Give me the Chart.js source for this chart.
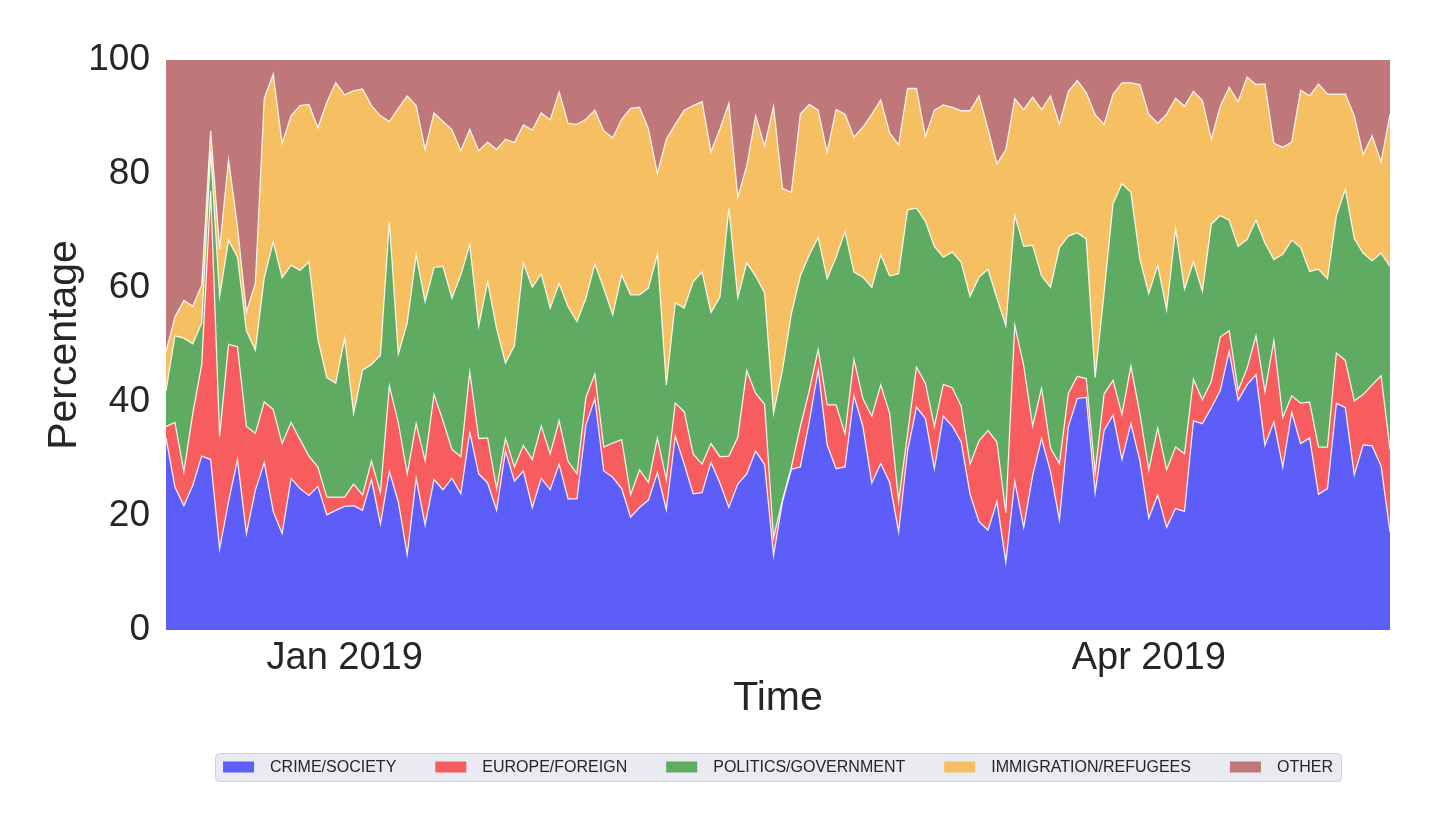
<!DOCTYPE html>
<html>
<head>
<meta charset="utf-8">
<script src="https://cdn.jsdelivr.net/npm/chart.js@4.4.1/dist/chart.umd.min.js"></script>
<style>
  html, body { margin: 0; padding: 0; background: #fff; }
  #wrap { width: 1440px; height: 831px; }
</style>
</head>
<body>
<div id="wrap"><canvas id="area-chart"></canvas></div>
<script>
// one point per day, 12 Dec 2018 .. 28 Apr 2019
// each array is the upper edge of that band (cumulative percentage)
const crimeTop = [
  33.7,25.1,21.8,25.4,30.5,29.9,14.2,22.5,29.9,16.9,24.5,29.4,20.8,16.9,26.6,24.8,23.6,25.2,20.2,21.0,21.7,21.8,21.0,
  26.4,18.6,27.8,22.5,13.2,26.6,18.4,26.4,24.6,26.6,23.9,34.7,27.4,25.8,21.0,31.4,26.1,27.9,21.5,26.6,24.6,29.1,23.0,
  23.0,36.0,40.6,27.9,26.8,24.8,19.8,21.5,22.8,27.6,21.1,34.0,29.1,23.9,24.1,29.4,25.8,21.5,25.6,27.4,31.4,29.0,
  13.1,22.5,28.2,28.6,36.5,45.7,32.5,28.3,28.6,41.1,35.7,25.8,29.2,25.9,17.2,31.4,39.1,37.1,28.3,37.5,35.8,33.0,
  23.8,19.0,17.5,22.5,11.9,26.1,18.0,27.1,33.6,27.8,19.3,35.7,40.6,40.8,24.1,35.0,37.7,29.9,36.2,29.7,19.6,23.7,18.0,
  21.3,20.8,36.7,36.2,39.0,42.0,48.9,40.3,43.0,44.8,32.4,36.5,28.6,38.2,32.7,33.7,23.8,24.8,39.8,39.0,27.2,32.5,32.3,28.8,17.2
];
const europeTop = [
  35.7,36.4,27.8,38.0,46.6,77.0,34.0,50.1,49.7,35.7,34.5,40.0,38.7,32.7,36.4,33.4,30.5,28.6,23.3,23.3,23.3,25.6,23.7,
  29.6,24.1,42.8,36.4,27.4,36.2,29.7,41.3,36.7,31.7,30.4,45.3,33.6,33.7,24.8,33.6,28.6,32.4,29.9,35.8,30.9,36.7,29.6,
  27.4,40.8,44.9,32.1,32.8,33.4,23.7,28.1,25.9,33.7,26.4,39.8,38.3,30.9,29.1,32.7,30.4,30.5,33.8,45.5,41.5,39.6,
  16.2,22.8,28.6,35.7,42.0,49.2,39.5,39.5,34.4,47.5,40.6,37.5,43.0,38.0,22.6,34.4,46.1,43.3,35.7,43.1,42.5,39.3,
  29.1,33.2,35.0,33.0,20.6,53.5,46.4,35.8,42.4,31.9,29.2,41.5,44.5,44.1,27.6,41.4,43.8,37.8,46.3,38.0,28.1,35.4,28.1,
  32.1,30.9,44.0,40.4,43.6,51.4,52.5,42.0,45.9,51.6,41.8,50.8,37.3,41.1,39.8,40.0,32.1,32.1,48.6,47.3,40.2,41.3,43.0,44.6,31.7
];
const politicsTop = [
  42.0,51.6,51.2,50.2,53.9,84.0,58.5,68.4,65.4,52.5,49.1,61.8,68.1,61.8,64.0,63.1,64.6,51.0,44.3,43.3,51.2,38.0,45.6,
  46.6,48.2,71.7,48.4,53.9,65.8,57.6,63.6,63.8,58.2,62.3,67.6,53.3,61.1,52.9,46.8,49.9,64.4,60.1,62.5,56.5,60.8,56.7,
  54.1,58.2,64.2,59.9,55.3,62.3,58.8,58.8,60.0,65.9,43.0,57.4,56.5,61.1,62.8,55.7,58.4,74.0,58.3,64.4,62.1,59.1,
  38.0,45.6,55.5,62.1,65.8,68.9,61.6,65.4,69.9,62.8,61.9,60.1,65.8,62.1,62.5,73.7,74.0,71.7,67.3,65.4,66.3,64.5,
  58.5,61.9,63.3,58.2,53.4,72.7,67.3,67.5,62.1,60.1,67.1,69.1,69.7,68.6,44.3,59.2,74.8,78.3,76.8,65.1,59.0,64.0,56.2,
  70.4,59.8,64.6,59.4,71.2,72.7,71.9,67.3,68.5,71.9,67.9,65.0,65.9,68.4,67.1,62.9,63.3,61.6,72.7,77.3,68.7,66.1,64.8,66.1,63.8
];
const immigrationTop = [
  48.9,54.9,57.8,56.8,60.5,87.6,66.8,82.5,70.7,55.8,60.8,93.3,97.5,85.4,90.2,92.0,92.2,88.1,92.6,96.0,93.9,94.6,94.9,
  92.0,90.2,89.2,91.5,93.7,92.0,84.3,90.7,89.2,87.8,84.1,87.8,84.1,85.6,84.3,86.1,85.5,88.6,87.7,90.7,89.5,94.4,88.9,
  88.7,89.6,91.2,87.6,86.3,89.6,91.5,91.7,87.9,80.1,86.1,88.7,91.2,92.0,92.7,83.9,87.9,92.4,75.9,81.4,90.2,84.9,
  91.9,77.5,76.8,90.5,92.2,91.2,83.8,91.3,90.5,86.5,88.2,90.5,93.0,87.2,85.1,95.0,95.0,86.6,91.2,92.1,91.7,91.1,
  91.1,93.7,87.9,81.8,84.3,93.2,91.3,93.5,91.3,93.7,88.7,94.5,96.4,94.3,90.4,88.7,94.0,96.0,96.0,95.7,90.5,88.9,90.5,
  93.3,91.9,94.5,92.9,86.1,91.9,95.2,92.7,97.0,95.7,95.8,85.4,84.7,85.6,94.7,93.7,95.8,94.0,94.0,94.0,90.2,83.4,86.7,82.1,90.4
];

const seriesNames = ['CRIME/SOCIETY', 'EUROPE/FOREIGN', 'POLITICS/GOVERNMENT', 'IMMIGRATION/REFUGEES', 'OTHER'];
const tickDays = [20, 110];
const tickLabels = ['Jan 2019', 'Apr 2019'];
const yTicks = [0, 20, 40, 60, 80, 100];

const colors = ['#5d5df8', '#f75d5e', '#5eab61', '#f6bf61', '#bf7779'];
const textColor = '#262626';
const edgeColor = 'rgba(255,255,255,0.85)';

Chart.defaults.font.family = '"Liberation Sans", Arial, sans-serif';
Chart.defaults.color = textColor;

function points(values) {
  return values.map((v, i) => ({ x: i, y: v }));
}

// matplotlib-like legend panel below the axis title
const legendPanel = {
  id: 'legendPanel',
  afterDraw(chart) {
    const ctx = chart.ctx;
    const sets = chart.data.datasets;
    const swatchW = 31, swatchH = 11, textGap = 16, itemGap = 39, padX = 8, h = 28;
    ctx.save();
    ctx.font = '16px "Liberation Sans", Arial, sans-serif';
    const widths = sets.map(ds => ctx.measureText(ds.label).width);
    let total = padX * 2 + itemGap * (sets.length - 1);
    widths.forEach(w => { total += swatchW + textGap + w; });
    const area = chart.chartArea;
    const left = (area.left + area.right) / 2 - total / 2;
    const top = area.bottom + 123;
    const cy = top + h / 2;
    ctx.beginPath();
    ctx.roundRect(left + 0.5, top + 0.5, total, h, 4);
    ctx.fillStyle = '#eaeaf2';
    ctx.fill();
    ctx.strokeStyle = '#d0d0d8';
    ctx.lineWidth = 1;
    ctx.stroke();
    ctx.textBaseline = 'middle';
    let x = left + padX;
    sets.forEach((ds, i) => {
      ctx.fillStyle = ds.backgroundColor;
      ctx.fillRect(x, cy - swatchH / 2, swatchW, swatchH);
      x += swatchW + textGap;
      ctx.fillStyle = textColor;
      ctx.fillText(ds.label, x, cy + 1);
      x += widths[i] + itemGap;
    });
    ctx.restore();
  }
};

new Chart(document.getElementById('area-chart'), {
  type: 'line',
  data: {
    datasets: [
      { label: seriesNames[0], data: points(crimeTop), backgroundColor: colors[0], fill: 'origin' },
      { label: seriesNames[1], data: points(europeTop), backgroundColor: colors[1], fill: '-1' },
      { label: seriesNames[2], data: points(politicsTop), backgroundColor: colors[2], fill: '-1' },
      { label: seriesNames[3], data: points(immigrationTop), backgroundColor: colors[3], fill: '-1' },
      { label: seriesNames[4], data: points(immigrationTop), backgroundColor: colors[4], fill: 'end', borderWidth: 0 }
    ]
  },
  options: {
    responsive: true,
    maintainAspectRatio: false,
    animation: false,
    layout: { padding: { left: 0, right: 50, top: 60, bottom: 101 } },
    elements: {
      point: { radius: 0, hoverRadius: 0 },
      line: { tension: 0, borderWidth: 1.3, borderColor: edgeColor }
    },
    plugins: {
      legend: { display: false },
      tooltip: { enabled: false }
    },
    scales: {
      x: {
        type: 'linear',
        min: 0,
        max: crimeTop.length - 1,
        z: 1,
        border: { display: false },
        grid: { color: 'rgba(255,255,255,0.2)', drawTicks: false },
        afterBuildTicks: scale => { scale.ticks = tickDays.map(v => ({ value: v })); },
        afterFit: scale => { scale.height = 100; },
        ticks: {
          padding: 6,
          font: { size: 38 },
          callback: value => tickLabels[tickDays.indexOf(value)] || ''
        },
        title: { display: true, text: 'Time', font: { size: 41 }, padding: { top: 0, bottom: 7 } }
      },
      y: {
        min: 0,
        max: 100,
        z: 1,
        border: { display: false },
        grid: { color: 'rgba(255,255,255,0.2)', drawTicks: false },
        afterBuildTicks: scale => { scale.ticks = yTicks.map(v => ({ value: v })); },
        afterFit: scale => { scale.width = 166; },
        ticks: { padding: 16, font: { size: 37 } },
        title: { display: true, text: 'Percentage', font: { size: 41 }, padding: { top: 40, bottom: 0 } }
      }
    }
  },
  plugins: [legendPanel]
});
</script>
</body>
</html>
